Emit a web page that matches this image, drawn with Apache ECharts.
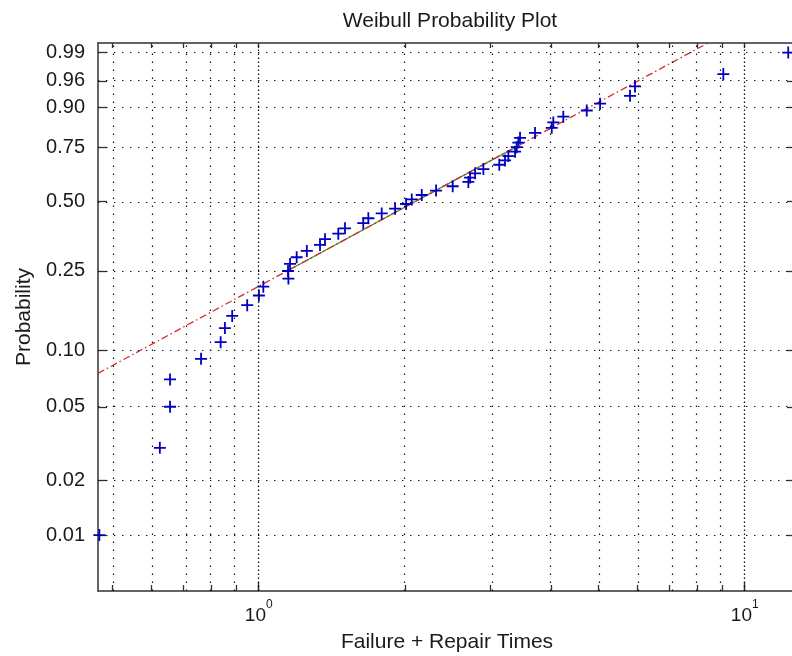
<!DOCTYPE html>
<html><head><meta charset="utf-8">
<script src="https://cdn.jsdelivr.net/npm/echarts@6/dist/echarts.min.js"></script>
<style>html,body{margin:0;padding:0;background:#fff;overflow:hidden}#c{width:792px;height:656px}</style>
</head><body><div id="c"></div>
<script>
// ---- data ----
const failureTimes = [0.470, 0.626, 0.657, 0.657, 0.761, 0.835, 0.852, 0.882, 0.947, 1.001,
  1.022, 1.151, 1.149, 1.160, 1.197, 1.256, 1.337, 1.369, 1.458, 1.505,
  1.641, 1.681, 1.791, 1.908, 2.010, 2.065, 2.165, 2.317, 2.507, 2.700,
  2.722, 2.787, 2.899, 3.126, 3.212, 3.263, 3.368, 3.395, 3.421, 3.449,
  3.703, 4.008, 4.038, 4.234, 4.731, 5.039, 5.808, 5.947, 9.036, 12.29];
const probabilities = [0.01, 0.03, 0.05, 0.07, 0.09, 0.11, 0.13, 0.15, 0.17, 0.19,
  0.21, 0.23, 0.25, 0.27, 0.29, 0.31, 0.33, 0.35, 0.37, 0.39,
  0.41, 0.43, 0.45, 0.47, 0.49, 0.51, 0.53, 0.55, 0.57, 0.59,
  0.61, 0.63, 0.65, 0.67, 0.69, 0.71, 0.73, 0.75, 0.77, 0.79,
  0.81, 0.83, 0.85, 0.87, 0.89, 0.91, 0.93, 0.95, 0.97, 0.99];
const fitLineTimes = [0.467, 8.40];
const fitLineProbs = [0.0754, 0.9945];
const quartileTimes = [1.144, 3.379];
const quartileProbs = [0.25, 0.75];
const probTicks = [0.01, 0.02, 0.05, 0.10, 0.25, 0.50, 0.75, 0.90, 0.96, 0.99];
const probTickLabels = ['0.01', '0.02', '0.05', '0.10', '0.25', '0.50', '0.75', '0.90', '0.96', '0.99'];
const timeMajorTicks = [1, 10];
const timeMajorExponents = ['0', '1'];
const timeMinorTicks = [0.5, 0.6, 0.7, 0.8, 0.9, 2, 3, 4, 5, 6, 7, 8, 9];
const timeRange = [0.467, 12.75];
const probRange = [0.00493, 0.9945];

// ---- scale transforms (log10 for time, Weibull for probability) ----
const tx = t => Math.log10(t);
const wy = p => Math.log(-Math.log(1 - p));

const xMin = tx(timeRange[0]), xMax = tx(timeRange[1]);
const yMin = wy(probRange[0]), yMax = wy(probRange[1]);
const majorX = timeMajorTicks.map(tx);
const minorX = timeMinorTicks.map(tx);
const allX = minorX.concat(majorX);
const yTicks = probTicks.map(wy);

const FONT = 'Liberation Sans, Arial, sans-serif';
const TXT = '#1a1a1a';
const AX = '#303030';

const chart = echarts.init(document.getElementById('c'), null, {renderer: 'canvas'});

const gridLineStyle = {color: '#111', width: 1.2, type: [1.4, 6.6]};
const gridMarks = [];
minorX.forEach(v => gridMarks.push({xAxis: v}));
majorX.forEach(v => gridMarks.push({xAxis: v, lineStyle: {color: '#111', width: 1.3, type: [1.4, 2.6]}}));
yTicks.forEach(v => gridMarks.push({yAxis: v}));

const option = {
  animation: false,
  backgroundColor: '#fff',
  title: {
    text: 'Weibull Probability Plot',
    left: 445, top: 6, textAlign: 'center',
    textStyle: {fontFamily: FONT, fontSize: 21, fontWeight: 'normal', color: TXT}
  },
  grid: {left: 98, top: 43, width: 698, height: 548, containLabel: false, outerBoundsMode: 'none'},
  xAxis: [
    {
      type: 'value', position: 'bottom', min: xMin, max: xMax,
      name: 'Failure + Repair Times', nameLocation: 'middle', nameGap: 41,
      nameTextStyle: {fontFamily: FONT, fontSize: 21, color: TXT},
      axisLine: {show: true, onZero: false, lineStyle: {color: AX, width: 1.5}},
      axisTick: {show: true, inside: true, length: 6, customValues: allX, lineStyle: {color: AX, width: 1.3}},
      axisLabel: {
        show: true, customValues: majorX, margin: 8,
        formatter: v => {
          const i = majorX.findIndex(m => Math.abs(m - v) < 1e-6);
          return i < 0 ? '' : '{b|10}{s|' + timeMajorExponents[i] + '}';
        },
        rich: {
          b: {fontFamily: FONT, fontSize: 19, color: TXT, lineHeight: 26, verticalAlign: 'bottom'},
          s: {fontFamily: FONT, fontSize: 12, color: TXT, lineHeight: 12, verticalAlign: 'top'}
        }
      },
      splitLine: {show: false}
    },
    {
      type: 'value', position: 'bottom', min: xMin, max: xMax,
      axisLine: {show: false, onZero: false},
      axisTick: {show: true, inside: true, length: 9, customValues: majorX, lineStyle: {color: AX, width: 1.3}},
      axisLabel: {show: false},
      splitLine: {show: false}
    },
    {
      type: 'value', position: 'top', min: xMin, max: xMax,
      axisLine: {show: true, onZero: false, lineStyle: {color: AX, width: 1.5}},
      axisTick: {show: true, inside: true, length: 5, customValues: allX, lineStyle: {color: AX, width: 1.3}},
      axisLabel: {show: false},
      splitLine: {show: false}
    }
  ],
  yAxis: [
    {
      type: 'value', position: 'left', min: yMin, max: yMax,
      name: 'Probability', nameLocation: 'middle', nameRotate: 90, nameGap: 62,
      nameTextStyle: {fontFamily: FONT, fontSize: 21, color: TXT},
      axisLine: {show: true, onZero: false, lineStyle: {color: AX, width: 1.5}},
      axisTick: {show: true, inside: true, length: 9, customValues: yTicks, lineStyle: {color: AX, width: 1.3}},
      axisLabel: {
        show: true, customValues: yTicks, margin: 13,
        fontFamily: FONT, fontSize: 20, color: TXT,
        formatter: v => {
          const i = yTicks.findIndex(m => Math.abs(m - v) < 1e-6);
          return i < 0 ? '' : probTickLabels[i];
        }
      },
      splitLine: {show: false}
    },
    {
      type: 'value', position: 'right', min: yMin, max: yMax,
      axisLine: {show: false, onZero: false},
      axisTick: {show: true, inside: true, length: 9, customValues: yTicks, lineStyle: {color: AX, width: 1.3}},
      axisLabel: {show: false},
      splitLine: {show: false}
    }
  ],
  series: [
    {
      type: 'line', name: 'grid', data: [], silent: true, z: 1,
      markLine: {
        silent: true, symbol: ['none', 'none'], animation: false,
        label: {show: false}, emphasis: {disabled: true},
        lineStyle: gridLineStyle,
        data: gridMarks
      }
    },
    {
      type: 'line', name: 'quartile segment', z: 2, silent: true,
      data: quartileTimes.map((t, i) => [tx(t), wy(quartileProbs[i])]),
      showSymbol: false, symbol: 'none',
      lineStyle: {color: '#3f9a3a', width: 1.3, type: 'solid'}
    },
    {
      type: 'line', name: 'fit', z: 3, silent: true,
      data: fitLineTimes.map((t, i) => [tx(t), wy(fitLineProbs[i])]),
      showSymbol: false, symbol: 'none',
      lineStyle: {color: '#d42a2a', width: 1.3, type: [7, 3, 1.5, 3]}
    },
    {
      type: 'scatter', name: 'data', z: 4, clip: false,
      data: failureTimes.map((t, i) => [tx(t), wy(probabilities[i])]),
      symbol: 'path://M0,50L100,50M50,0L50,100',
      symbolSize: 12,
      itemStyle: {color: 'rgba(0,0,0,0)', borderColor: '#0000c0', borderWidth: 1.8, opacity: 1}
    }
  ]
};
chart.setOption(option);
</script>
</body></html>
